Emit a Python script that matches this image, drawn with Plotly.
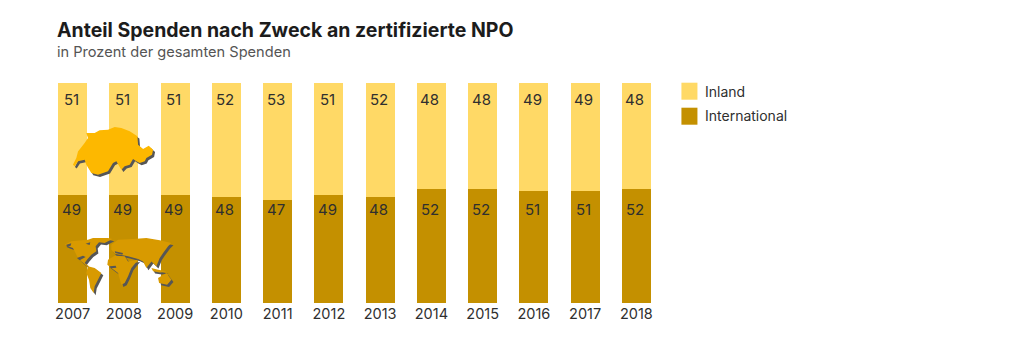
import plotly.graph_objects as go

years = ["2007","2008","2009","2010","2011","2012","2013","2014","2015","2016","2017","2018"]
inland = [51,51,51,52,53,51,52,48,48,49,49,48]
international = [49,49,49,48,47,49,48,52,52,51,51,52]

TITLE = "Anteil Spenden nach Zweck an zertifizierte NPO"
SUBTITLE = "in Prozent der gesamten Spenden"
C_IN = "#ffd966"
C_INT = "#c49000"
C_CH = "#fdb800"
C_WORLD = "#d89a00"
C_SH = "#565656"
FONT = "Inter"
TXT = "#2f2f2f"

W, H = 1024, 353
L, R, T, B = 47.4, 661.6, 83.3, 303.3

def fx(p): return (p - L) / (R - L)
def fy(p): return (B - p) / (B - T)

# decorative map outlines, in crop coordinates (3x)
swiss = [(25,135),(35,115),(40,95),(60,70),(70,55),(65,40),(90,40),(105,32),(130,30),(150,22),(170,25),(195,35),(218,50),(220,75),(235,88),(252,78),(265,90),(262,105),(245,115),(240,125),(225,130),(215,125),(205,118),(195,135),(180,140),(170,150),(155,125),(145,130),(130,155),(100,165),(80,160),(65,135),(60,120),(40,125),(30,140)]
world = [
 [(15,45),(35,35),(50,33),(85,30),(100,25),(145,25),(158,28),(135,40),(118,38),(108,50),(110,65),(95,75),(82,90),(75,100),(88,110),(85,112),(65,95),(55,85),(45,65),(40,55),(25,50)],
 [(85,110),(105,115),(125,130),(115,150),(105,170),(102,190),(92,175),(88,150),(80,130)],
 [(145,90),(165,78),(195,80),(205,95),(235,90),(215,115),(205,140),(195,160),(185,165),(175,130),(155,115),(143,105)],
 [(155,45),(175,30),(220,28),(260,25),(300,32),(335,40),(325,50),(310,70),(300,85),(290,110),(275,95),(260,115),(250,95),(235,88),(205,80),(165,72),(155,60)],
 [(295,145),(320,130),(335,150),(322,165),(298,160)],
 [(275,115),(295,120),(320,125),(300,128),(280,125)],
]
specks = [
 [(20,45),(35,41),(33,48),(22,52)],
 [(52,85),(70,78),(78,82),(60,92)],
 [(150,110),(168,108),(170,114),(154,116)],
 [(165,65),(190,70),(188,75),(167,70)],
 [(78,42),(92,38),(90,46)],
]
def path(pts, ox, oy, dx=0, dy=0):
    out = []
    for i, (a, b) in enumerate(pts):
        px = a / 3 + ox + dx
        py = b / 3 + oy + dy
        out.append(("M" if i == 0 else "L") + f"{fx(px):.4f},{fy(py):.4f}")
    return " ".join(out) + " Z"

def poly(pts, ox, oy, color, dx=0, dy=0):
    return dict(type="path", xref="paper", yref="paper", path=path(pts, ox, oy, dx, dy), fillcolor=color, line_width=0)

shapes = [poly(swiss, 65, 120, C_SH, 2, 2.2), poly(swiss, 65, 120, C_CH)]
shapes += [poly(p, 60, 230, C_SH, 2, 2.2) for p in world]
shapes += [poly(p, 60, 230, C_WORLD) for p in world]
shapes += [poly(p, 60, 230, C_SH) for p in specks]

# legend swatches
for top, c in [(83, C_IN), (108, C_INT)]:
    shapes.append(dict(type="rect", xref="paper", yref="paper", x0=fx(681), x1=fx(697), y0=fy(top+17), y1=fy(top), fillcolor=c, line_width=0))

anns = []
def txt(x, y, s, size, color=TXT, weight=None):
    f = dict(family=FONT, size=size, color=color)
    if weight: f["weight"] = weight
    anns.append(dict(xref="paper", yref="paper", x=fx(x), y=fy(y), text=s, showarrow=False, xanchor="left", yanchor="middle", font=f))

txt(55, 30, TITLE, 19.5, "#1c1c1c", 700)
txt(55, 52, SUBTITLE, 14.6, "#555555")
txt(703, 92, "Inland", 14)
txt(703, 116, "International", 14)

UP_Y, LOW_Y = 92.3, 42.3
for i, (a, b) in enumerate(zip(inland, international)):
    anns.append(dict(x=i, y=UP_Y, text=str(a), showarrow=False, xshift=-1.5, font=dict(family=FONT, size=15, color=TXT)))
    anns.append(dict(x=i, y=LOW_Y, text=str(b), showarrow=False, xshift=-1.5, font=dict(family=FONT, size=15, color=TXT)))

fig = go.Figure()
fig.add_bar(x=years, y=international, name="International", marker=dict(color=C_INT, line_width=0))
fig.add_bar(x=years, y=inland, name="Inland", marker=dict(color=C_IN, line_width=0))
fig.update_layout(
    width=W, height=H, barmode="stack", bargap=0.43, showlegend=False,
    paper_bgcolor="white", plot_bgcolor="white",
    margin=dict(l=L, r=W-R, t=T, b=H-B, pad=0),
    shapes=shapes, annotations=anns,
    xaxis=dict(type="category", showgrid=False, zeroline=False, showline=False, ticks="",
               tickfont=dict(family=FONT, size=14.5, color=TXT), fixedrange=True),
    yaxis=dict(range=[0,100], visible=False, fixedrange=True),
)
fig.write_html("out.html", config=dict(displayModeBar=False),
               post_script="document.body.style.margin='0';")
